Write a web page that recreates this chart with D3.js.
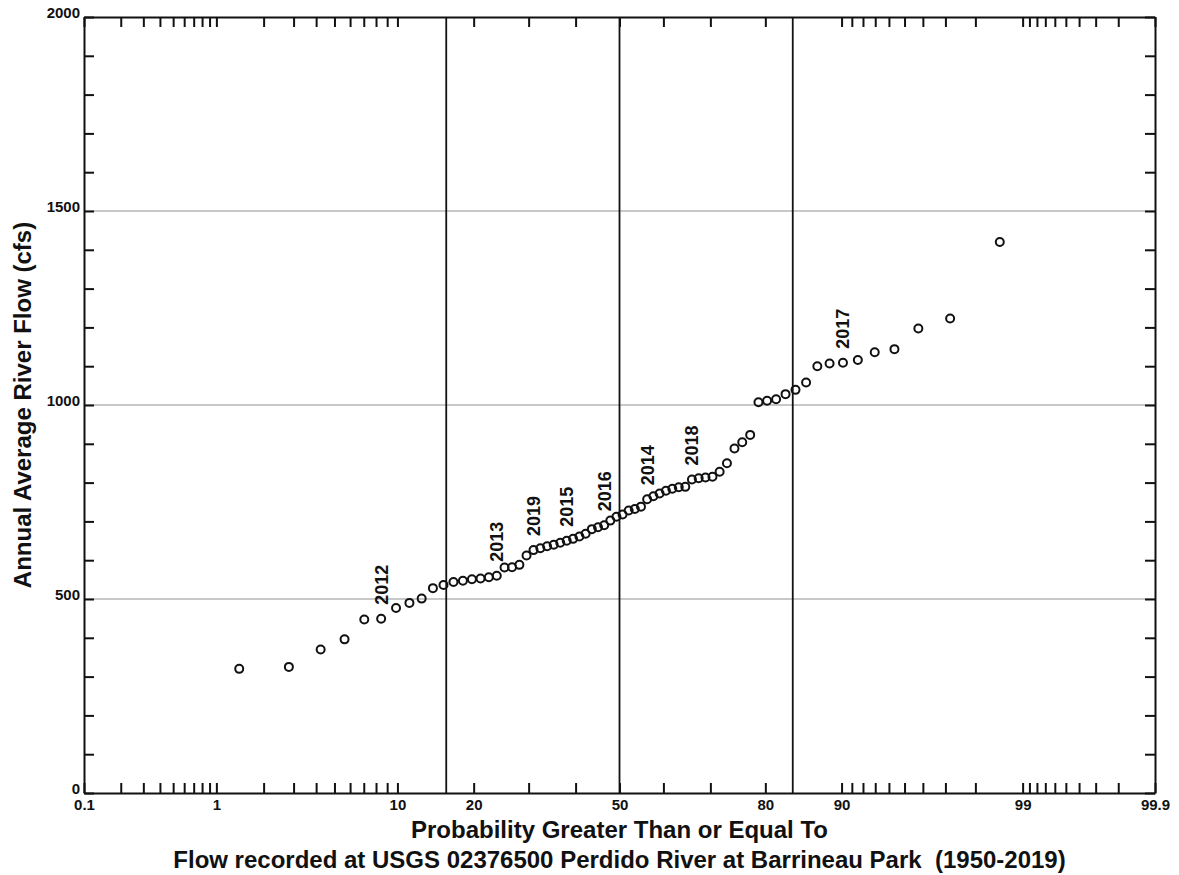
<!DOCTYPE html>
<html>
<head>
<meta charset="utf-8">
<script src="https://cdn.jsdelivr.net/npm/d3@7"></script>
<style>
  body { margin: 0; background: #fff; }
  svg { display: block; font-family: "Liberation Sans", Arial, Helvetica, sans-serif; }
</style>
</head>
<body>
<div id="chart"></div>
<script>
// exceedance probability (%) of each ranked year, and its annual average flow (cfs)
const probability = [1.41, 2.82, 4.23, 5.63, 7.04, 8.45, 9.86, 11.27, 12.68, 14.08,
    15.49, 16.90, 18.31, 19.72, 21.13, 22.54, 23.94, 25.35, 26.76, 28.17,
    29.58, 30.99, 32.39, 33.80, 35.21, 36.62, 38.03, 39.44, 40.85, 42.25,
    43.66, 45.07, 46.48, 47.89, 49.30, 50.70, 52.11, 53.52, 54.93, 56.34,
    57.75, 59.15, 60.56, 61.97, 63.38, 64.79, 66.20, 67.61, 69.01, 70.42,
    71.83, 73.24, 74.65, 76.06, 77.46, 78.87, 80.28, 81.69, 83.10, 84.51,
    85.92, 87.32, 88.73, 90.14, 91.55, 92.96, 94.37, 95.77, 97.18, 98.59];
const flow = [320, 325, 370, 396, 447, 449, 477, 490, 501, 528,
    536, 544, 547, 551, 553, 556, 560, 581, 582, 588,
    612, 626, 631, 636, 640, 645, 650, 655, 661, 668,
    680, 685, 690, 702, 712, 718, 728, 732, 738, 757,
    765, 772, 779, 784, 788, 789, 808, 811, 813, 815,
    828, 850, 888, 904, 923, 1007, 1011, 1015, 1028, 1039,
    1058, 1100, 1107, 1109, 1116, 1136, 1144, 1197, 1223, 1420];

// labelled years, by rank (1-based) of the point they sit above
const yearLabels = ["2012", "2013", "2019", "2015", "2016", "2014", "2018", "2017"];
const yearRanks = [6, 17, 22, 27, 33, 40, 47, 64];

const probTicks = [0.1, 0.2, 0.3, 0.4, 0.5, 0.6, 0.7, 0.8, 0.9,
    1, 2, 3, 4, 5, 6, 7, 8, 9,
    10, 20, 30, 40, 50, 60, 70, 80, 90,
    91, 92, 93, 94, 95, 96, 97, 98, 99,
    99.1, 99.2, 99.3, 99.4, 99.5, 99.6, 99.7, 99.8, 99.9];
const probTickLabels = [0.1, 1, 10, 20, 50, 80, 90, 99, 99.9];
const refLines = [15.87, 50, 84.13];

const flowTicks = [0, 100, 200, 300, 400, 500, 600, 700, 800, 900, 1000,
    1100, 1200, 1300, 1400, 1500, 1600, 1700, 1800, 1900, 2000];
const flowTickLabels = [0, 500, 1000, 1500, 2000];
const flowGrid = [500, 1000, 1500];

const xTitle = "Probability Greater Than or Equal To";
const subTitle = "Flow recorded at USGS 02376500 Perdido River at Barrineau Park  (1950-2019)";
const yTitle = "Annual Average River Flow (cfs)";

// inverse normal cdf (Acklam)
function qnorm(p) {
    const a = [-3.969683028665376e+01, 2.209460984245205e+02, -2.759285104469687e+02, 1.383577518672690e+02, -3.066479806614716e+01, 2.506628277459239e+00];
    const b = [-5.447609879822406e+01, 1.615858368580409e+02, -1.556989798598866e+02, 6.680131188771972e+01, -1.328068155288572e+01];
    const c = [-7.784894002430293e-03, -3.223964580411365e-01, -2.400758277161838e+00, -2.549732539343734e+00, 4.374664141464968e+00, 2.938163982698783e+00];
    const d = [7.784695709041462e-03, 3.224671290700398e-01, 2.445134137142996e+00, 3.754408661907416e+00];
    const pl = 0.02425;
    let q, r;
    if (p < pl) {
        q = Math.sqrt(-2 * Math.log(p));
        return (((((c[0] * q + c[1]) * q + c[2]) * q + c[3]) * q + c[4]) * q + c[5]) / ((((d[0] * q + d[1]) * q + d[2]) * q + d[3]) * q + 1);
    }
    if (p <= 1 - pl) {
        q = p - 0.5; r = q * q;
        return (((((a[0] * r + a[1]) * r + a[2]) * r + a[3]) * r + a[4]) * r + a[5]) * q / (((((b[0] * r + b[1]) * r + b[2]) * r + b[3]) * r + b[4]) * r + 1);
    }
    q = Math.sqrt(-2 * Math.log(1 - p));
    return -(((((c[0] * q + c[1]) * q + c[2]) * q + c[3]) * q + c[4]) * q + c[5]) / ((((d[0] * q + d[1]) * q + d[2]) * q + d[3]) * q + 1);
}

const W = 1179, H = 875;
const margin = { top: 17, right: 24, bottom: 82, left: 84 };
const width = W - margin.left - margin.right;
const height = H - margin.top - margin.bottom;

const svg = d3.select("#chart").append("svg")
    .attr("width", W)
    .attr("height", H);

svg.append("rect").attr("width", W).attr("height", H).attr("fill", "#fff");

const g = svg.append("g")
    .attr("transform", `translate(${margin.left},${margin.top})`);

// x works in z (normal quantile) space
const z = d3.scaleLinear()
    .domain([qnorm(0.001), qnorm(0.999)])
    .range([0, width]);
const x = p => z(qnorm(p / 100));

const y = d3.scaleLinear()
    .domain([0, 2000])
    .range([height, 0]);

// grid
g.selectAll(".grid")
    .data(flowGrid)
    .enter().append("line")
    .attr("x1", 0).attr("x2", width)
    .attr("y1", d => y(d)).attr("y2", d => y(d))
    .attr("stroke", "#c8c8c8")
    .attr("stroke-width", 2);

g.selectAll(".ref")
    .data(refLines)
    .enter().append("line")
    .attr("x1", d => x(d)).attr("x2", d => x(d))
    .attr("y1", 0).attr("y2", height)
    .attr("stroke", "#111")
    .attr("stroke-width", 1.8);

// axes
const zTicks = probTicks.map(p => qnorm(p / 100));
const probFmt = (d, i) => probTickLabels.includes(probTicks[i]) ? String(probTicks[i]) : "";

const xAxis = g.append("g")
    .attr("transform", `translate(0,${height})`)
    .call(d3.axisBottom(z).tickValues(zTicks).tickSizeInner(-10).tickSizeOuter(0).tickPadding(6).tickFormat(probFmt));

const xAxisTop = g.append("g")
    .call(d3.axisTop(z).tickValues(zTicks).tickSizeInner(-10).tickSizeOuter(0).tickFormat(""));

const yAxis = g.append("g")
    .call(d3.axisLeft(y).tickValues(flowTicks).tickSizeInner(-10).tickSizeOuter(0).tickPadding(4)
        .tickFormat(d => flowTickLabels.includes(d) ? d : ""));

const yAxisRight = g.append("g")
    .attr("transform", `translate(${width},0)`)
    .call(d3.axisRight(y).tickValues(flowTicks).tickSizeInner(-10).tickSizeOuter(0).tickFormat(""));

[xAxis, xAxisTop, yAxis, yAxisRight].forEach(ax => {
    ax.select(".domain").attr("stroke", "#111").attr("stroke-width", 2);
    ax.selectAll(".tick line").attr("stroke", "#111").attr("stroke-width", 2);
    ax.selectAll("text")
        .attr("fill", "#111")
        .style("font-size", "15px")
        .style("font-weight", "bold")
        .style("font-family", "'Liberation Sans', Arial, sans-serif");
});
yAxis.selectAll("text").attr("dy", "0");

// points
g.selectAll(".pt")
    .data(flow)
    .enter().append("circle")
    .attr("cx", (d, i) => x(probability[i]))
    .attr("cy", d => y(d))
    .attr("r", 4)
    .attr("fill", "none")
    .attr("stroke", "#111")
    .attr("stroke-width", 2);

// year labels
g.selectAll(".year")
    .data(yearLabels)
    .enter().append("text")
    .attr("transform", (d, i) => {
        const k = yearRanks[i] - 1;
        return `translate(${x(probability[k])},${y(flow[k]) - 14}) rotate(-90)`;
    })
    .attr("dy", "0.36em")
    .attr("fill", "#111")
    .style("font-size", "18px")
    .style("font-weight", "bold")
    .text(d => d);

// titles
svg.append("text")
    .attr("x", margin.left + width / 2)
    .attr("y", 838)
    .attr("text-anchor", "middle")
    .style("font-size", "24px")
    .style("font-weight", "bold")
    .attr("fill", "#111")
    .text(xTitle);

svg.append("text")
    .attr("x", margin.left + width / 2)
    .attr("y", 868)
    .attr("text-anchor", "middle")
    .style("font-size", "24px")
    .style("font-weight", "bold")
    .style("white-space", "pre")
    .attr("fill", "#111")
    .text(subTitle);

svg.append("text")
    .attr("transform", `translate(31,${margin.top + height / 2}) rotate(-90)`)
    .attr("text-anchor", "middle")
    .style("font-size", "24px")
    .style("font-weight", "bold")
    .attr("fill", "#111")
    .text(yTitle);
</script>
</body>
</html>
